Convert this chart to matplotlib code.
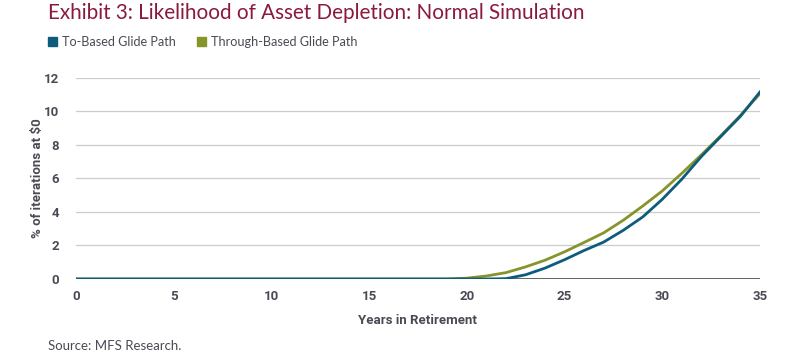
import matplotlib
matplotlib.use("Agg")
import matplotlib.pyplot as plt
from matplotlib.patches import Rectangle

years = [0, 5, 10, 15, 18, 19, 20, 21, 22, 23, 24, 25, 26, 27, 28, 29, 30, 31, 32, 33, 34, 35]
to_based = [0, 0, 0, 0, 0, 0, 0, 0, 0.02, 0.25, 0.65, 1.15, 1.7, 2.2, 2.9, 3.7, 4.75, 5.95, 7.3, 8.5, 9.7, 11.15]
through_based = [0, 0, 0, 0, 0, 0, 0.05, 0.18, 0.38, 0.72, 1.12, 1.62, 2.18, 2.75, 3.5, 4.35, 5.25, 6.3, 7.4, 8.55, 9.75, 11.05]
x_ticks = [0, 5, 10, 15, 20, 25, 30, 35]
y_ticks = [0, 2, 4, 6, 8, 10, 12]

BLUE = "#0d5c7c"
GREEN = "#86942a"
TITLE = "#8a1a3c"
TEXT = "#4a4a55"

fig = plt.figure(figsize=(8, 3.57), dpi=100)
ax = fig.add_axes([0.095, 0.2185, 0.855, 0.5639])

ax.plot(years, through_based, color=GREEN, lw=2.0, zorder=3)
ax.plot(years, to_based, color=BLUE, lw=2.0, zorder=4)
ax.axhline(0, color="#555555", lw=2.0, zorder=2)

ax.set_xlim(0, 35)
ax.set_ylim(0, 12)
ax.set_xticks(x_ticks)
ax.set_yticks(y_ticks)
ax.grid(axis="y", color="#cccccc", lw=0.9)
ax.set_axisbelow(True)
for s in ax.spines.values():
    s.set_visible(False)
ax.tick_params(length=0, labelsize=9.5, labelcolor=TEXT, pad=8)
for lab in ax.get_xticklabels() + ax.get_yticklabels():
    lab.set_fontweight("bold")
    lab.set_family("Roboto")
ax.tick_params(axis="y", pad=12)
ax.set_xlabel("Years in Retirement", fontsize=9.5, fontweight="bold", color=TEXT,
              family="Roboto", labelpad=8)
ax.set_ylabel("% of iterations at $0", fontsize=9.5, fontweight="bold", color=TEXT,
              family="Roboto", labelpad=0)

fig.text(48/800, 1-13/357, "Exhibit 3: Likelihood of Asset Depletion: Normal Simulation",
         fontsize=14.9, color=TITLE, family="Lato", va="center", ha="left")

# legend
fig.patches.append(Rectangle((48/800, 1-46/357), 9/800, 9/357, transform=fig.transFigure,
                             color=BLUE, figure=fig))
fig.text(62/800, 1-41.5/357, "To-Based Glide Path", fontsize=9.1, color=TEXT, family="Lato",
         va="center", ha="left")
fig.patches.append(Rectangle((197/800, 1-46/357), 9/800, 9/357, transform=fig.transFigure,
                             color=GREEN, figure=fig))
fig.text(211/800, 1-41.5/357, "Through-Based Glide Path", fontsize=9.1, color=TEXT, family="Lato",
         va="center", ha="left")

fig.text(48/800, 1-346/357, "Source: MFS Research.", fontsize=9.5, color=TEXT, family="Lato",
         va="center", ha="left")

fig.savefig("out.png", dpi=100)
